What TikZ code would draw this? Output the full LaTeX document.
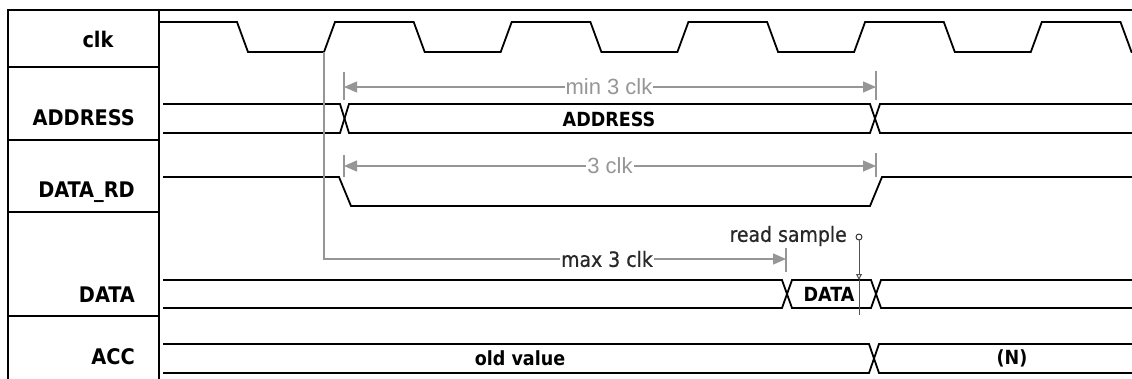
\documentclass[tikz,border=0pt]{standalone}
\usepackage{fontspec}
\setmainfont{DejaVu Sans Condensed}
\newfontfamily\notefont{Liberation Sans}
\newfontfamily\midfont[FakeBold=0.6]{DejaVu Sans Condensed}
\usetikzlibrary{arrows.meta}
\definecolor{dimln}{RGB}{150,150,150}
\definecolor{darkln}{RGB}{40,40,40}
\begin{document}
\begin{tikzpicture}[x=1pt,y=-1pt,
  dimtip/.tip={Triangle[length=13pt,width=11pt]},
  wave/.style={line width=1.8pt},
  frame/.style={line width=2.8pt},
  sep/.style={line width=1.4pt},
  dimline/.style={draw=dimln,line width=1.2pt},
  lbl/.style={font=\bfseries\fontsize{21.5}{24}\selectfont,inner sep=1pt},
  val/.style={font=\bfseries\fontsize{19.5}{22}\selectfont,inner sep=1pt},
  note/.style={font=\notefont\fontsize{22}{24}\selectfont,text=dimln,fill=white,inner sep=1pt},
  darknote/.style={font=\midfont\fontsize{21}{24}\selectfont,text=darkln,fill=white,inner sep=1pt}]
\useasboundingbox[fill=white] (0,0) rectangle (1132,378);
\clip (0,0) rectangle (1132,378);
\draw[frame] (8,380) -- (8,10) -- (1140,10);
\draw[frame] (159,10) -- (159,380);
\foreach \y in {67,140,212,316}
  \draw[sep] (8,\y) -- (159,\y);
\node[lbl] (clk) at (98,39) {clk};
\node[lbl,anchor=east] (addr) at (136,118) {ADDRESS};
\node[lbl,anchor=east] (rd) at (136,192) {DATA\_RD};
\node[lbl,anchor=east] (data) at (136,295) {DATA};
\node[lbl,anchor=east] (acc) at (136,357) {ACC};
\draw[wave] (160,22) foreach \k in {0,...,5} {
  -- ({237+176.7*\k},22) -- ({248+176.7*\k},52)
  -- ({324+176.7*\k},52) -- ({335+176.7*\k},22) };
\draw[wave] (163,104) -- (340,104) -- (349,133) -- (870,133) -- (880,104) -- (1140,104);
\draw[wave] (163,133) -- (340,133) -- (349,104) -- (870,104) -- (880,133) -- (1140,133);
\draw[wave] (163,177) -- (339,177) -- (351,206) -- (870,206) -- (882,177) -- (1140,177);
\draw[wave] (163,280) -- (782,280) -- (792,308) -- (871,308) -- (881,280) -- (1140,280);
\draw[wave] (163,308) -- (782,308) -- (792,280) -- (871,280) -- (881,308) -- (1140,308);
\draw[wave] (163,344) -- (869,344) -- (879,373) -- (1140,373);
\draw[wave] (163,373) -- (869,373) -- (879,344) -- (1140,344);
\node[val] (addrval) at (609,119) {ADDRESS};
\node[val] (dataval) at (829,294) {DATA};
\node[val] (oldval) at (520,358) {old value};
\node[val] (newval) at (1012,358) {(N)};
\coordinate (minL) at (344,87);
\coordinate (minR) at (876,87);
\draw[dimline,dimtip-dimtip] (minL) -- (minR);
\draw[dimline] (344,72) -- (344,100);
\draw[dimline] (876,71) -- (876,100);
\node[note] (mintxt) at (609,87) {min 3 clk};
\coordinate (rdL) at (344,166);
\coordinate (rdR) at (876,166);
\draw[dimline,dimtip-dimtip] (rdL) -- (rdR);
\draw[dimline] (344,155) -- (344,177);
\draw[dimline] (876,153) -- (876,177);
\node[note] (rdtxt) at (610,166) {3 clk};
\coordinate (rise) at (324,52);
\coordinate (valid) at (786,259);
\draw[dimline,-dimtip] (rise) |- (valid);
\draw[dimline] (786,248) -- (786,272);
\node[darknote] (maxtxt) at (607,259) {max 3 clk};
\node[circle,draw=darkln,line width=0.9pt,inner sep=0pt,minimum size=6pt] (probe) at (859,237) {};
\node[darknote,anchor=east] (readtxt) at (848,236) {read sample};
\coordinate (hit) at (859,280);
\draw[draw=darkln!80,line width=1pt,-{Triangle[open,length=6pt,width=6pt]}] (probe) -- (hit);
\draw[draw=darkln!80,line width=1pt] (hit) -- (859,315);
\end{tikzpicture}
\end{document}
